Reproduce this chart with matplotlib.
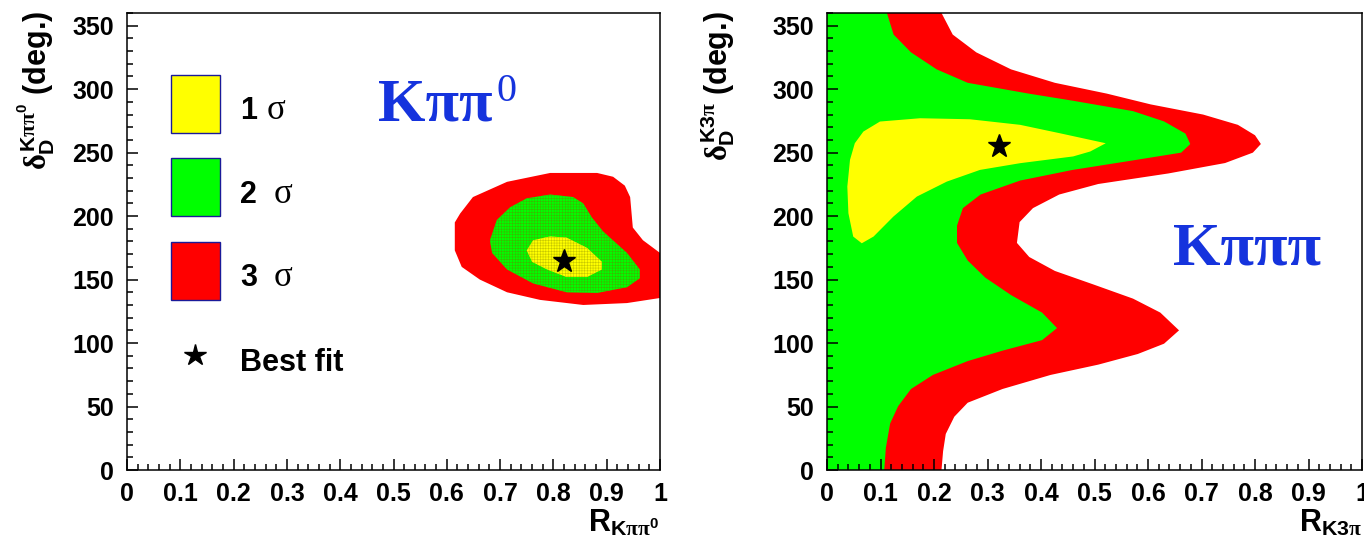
import matplotlib
matplotlib.use("Agg")
import matplotlib.pyplot as plt
from matplotlib.patches import Rectangle
from matplotlib.ticker import MultipleLocator

plt.rcParams["font.family"] = ["Liberation Sans", "DejaVu Sans"]
plt.rcParams["font.weight"] = "bold"
plt.rcParams["axes.labelweight"] = "bold"
plt.rcParams["mathtext.fontset"] = "custom"
plt.rcParams["mathtext.rm"] = "Liberation Sans:bold"
plt.rcParams["mathtext.bf"] = "Liberation Sans:bold"
plt.rcParams["mathtext.it"] = "Liberation Serif"
plt.rcParams["hatch.linewidth"] = 0.4

# --- K pi pi0 contours (closed polygons, R vs delta in deg.) ---
kpp0_3s_r = [0.794, 0.882, 0.912, 0.934, 0.944, 0.949, 0.968, 1.0, 1.0, 0.938, 0.856,
             0.775, 0.713, 0.662, 0.628, 0.615, 0.615, 0.625, 0.649, 0.713]
kpp0_3s_d = [234, 234, 231, 224, 215, 191, 181, 171, 135.5, 131.5, 130,
             134, 140, 150, 160, 173, 195, 202, 215, 227]
kpp0_2s_r = [0.794, 0.837, 0.856, 0.872, 0.893, 0.938, 0.962, 0.962, 0.938, 0.882,
             0.825, 0.762, 0.713, 0.685, 0.681, 0.694, 0.719, 0.750]
kpp0_2s_d = [217, 215, 210, 199, 188, 171, 158, 151, 144, 139.5,
             140, 147, 158, 171, 181, 197, 207, 214]
kpp0_1s_r = [0.750, 0.762, 0.794, 0.825, 0.863, 0.891, 0.891, 0.863, 0.825, 0.788, 0.760]
kpp0_1s_d = [173, 181, 184, 183, 175, 164, 158, 152, 152, 158, 164]
kpp0_best = (0.82, 165)

# --- K3pi contours: outer boundary R(delta) of the 3 sigma and 2 sigma bands ---
k3pi_3s_d = [360, 343, 329, 315.6, 305, 296.5, 288, 280, 271.9, 263.7, 256.8, 250, 241.8,
             233.6, 225.3, 217, 206.3, 195.3, 178.9, 167.8, 156.8, 146, 135, 124, 110,
             99.5, 91.4, 83, 74.9, 63.8, 53, 42, 28.4, 14.8, 0]
k3pi_3s_r = [0.214, 0.235, 0.279, 0.344, 0.426, 0.523, 0.605, 0.703, 0.768, 0.800, 0.811,
             0.796, 0.744, 0.638, 0.507, 0.434, 0.385, 0.360, 0.355, 0.378, 0.426, 0.499,
             0.572, 0.623, 0.658, 0.630, 0.581, 0.507, 0.418, 0.328, 0.263, 0.238, 0.222,
             0.217, 0.214]
k3pi_2s_d = [360, 343, 329, 315.6, 305, 296.5, 291, 282.7, 274.6, 265, 256.8, 250, 244.5,
             236.3, 228, 217, 206.3, 192.5, 178.9, 165, 151.5, 137.8, 124, 111.8, 102.3,
             94, 85.8, 74.9, 63.8, 50.3, 36.6, 17.4, 0]
k3pi_2s_r = [0.112, 0.1245, 0.157, 0.205, 0.263, 0.377, 0.458, 0.572, 0.630, 0.670, 0.679,
             0.662, 0.581, 0.458, 0.361, 0.287, 0.254, 0.243, 0.243, 0.263, 0.296, 0.344,
             0.402, 0.430, 0.402, 0.328, 0.263, 0.198, 0.157, 0.133, 0.118, 0.110, 0.107]
k3pi_1s_r = [0.068, 0.099, 0.174, 0.267, 0.361, 0.435, 0.521, 0.492, 0.460, 0.361, 0.286,
             0.224, 0.168, 0.124, 0.087, 0.065, 0.049, 0.040, 0.038, 0.043, 0.052]
k3pi_1s_d = [266.6, 274.5, 277.1, 276.3, 271.9, 265.3, 257.4, 250.9, 247, 241.7, 236.4,
             227.2, 215.4, 199.6, 183.9, 178.6, 183.9, 202.3, 223.3, 244.3, 257.4]
k3pi_best = (0.321, 255.6)

RED, GREEN, YELLOW = "#ff0000", "#00ff00", "#ffff00"
TITLE_BLUE = "#1533dd"


def style_axes(ax):
    ax.set_xlim(0, 1)
    ax.set_ylim(0, 360)
    ax.xaxis.set_major_locator(MultipleLocator(0.1))
    ax.xaxis.set_minor_locator(MultipleLocator(0.02))
    ax.yaxis.set_major_locator(MultipleLocator(50))
    ax.yaxis.set_minor_locator(MultipleLocator(10))
    ax.xaxis.set_major_formatter(lambda v, p: "%g" % round(v, 2))
    ax.tick_params(which="both", direction="in", top=False, right=False, width=1.1,
                   labelsize=18)
    ax.tick_params(which="major", length=8)
    ax.tick_params(which="minor", length=4.3)
    ax.tick_params(axis="x", pad=8.5)
    ax.tick_params(axis="y", pad=9.5)
    for s in ax.spines.values():
        s.set_linewidth(1.1)


def band(r, d):
    # region from R=0 out to the boundary R(delta)
    return [0.0] + list(r) + [0.0], [d[0]] + list(d) + [d[-1]]


fig = plt.figure(figsize=(13.64, 5.43), dpi=100)
ax1 = fig.add_axes([127 / 1364, 73 / 543, 533 / 1364, 457 / 543])
ax2 = fig.add_axes([827 / 1364, 73 / 543, 535 / 1364, 457 / 543])

# left panel
ax1.fill(kpp0_3s_r, kpp0_3s_d, color=RED, lw=0)
ax1.fill(kpp0_2s_r, kpp0_2s_d, facecolor=GREEN, edgecolor="#3cb800", hatch="++++++", lw=0)
ax1.fill(kpp0_1s_r, kpp0_1s_d, facecolor=YELLOW, edgecolor="#c8c800", hatch="++++++", lw=0)
ax1.plot(*kpp0_best, marker="*", color="black", markersize=17, ls="none")
style_axes(ax1)
ax1.set_ylabel(r"$\delta_{\mathrm{D}}^{\mathrm{K}\pi\pi^{0}}$ (deg.)", fontsize=22, loc="top")
ax1.yaxis.set_label_coords(-0.131, 1.004)
ax1.set_xlabel(r"R$_{\mathrm{K}\pi\pi^{0}}$", fontsize=22, loc="right")
ax1.xaxis.set_label_coords(1.0, -0.083)
ax1.text(0.471, 0.764, "K\u03c0\u03c0", transform=ax1.transAxes, fontsize=44,
         family="Liberation Serif", weight="bold", color=TITLE_BLUE, va="baseline")
ax1.text(0.694, 0.807, "0", transform=ax1.transAxes, fontsize=29,
         family="Liberation Serif", weight="normal", color=TITLE_BLUE, va="baseline")

# legend
boxes = [(0.737, YELLOW, "1", 0.7675), (0.555, GREEN, "2", 0.585), (0.373, RED, "3", 0.4035)]
for i, (y0, col, lab, yb) in enumerate(boxes):
    ax1.add_patch(Rectangle((0.0826, y0), 0.0919, 0.127, transform=ax1.transAxes,
                            facecolor=col, edgecolor="#1a1a99", lw=1.0, clip_on=False))
    ax1.text(0.212, yb, lab, transform=ax1.transAxes, fontsize=22, va="baseline")
    ax1.text(0.262 if i == 0 else 0.275, yb, "\u03c3", transform=ax1.transAxes,
             fontsize=25, family="Liberation Serif", weight="normal", va="baseline")
ax1.plot([0.1276], [0.252], transform=ax1.transAxes, marker="*", color="black",
         markersize=16, clip_on=False)
ax1.text(0.212, 0.2156, "Best fit", transform=ax1.transAxes, fontsize=22, va="baseline")

# right panel
ax2.fill(*band(k3pi_3s_r, k3pi_3s_d), color=RED, lw=0)
ax2.fill(*band(k3pi_2s_r, k3pi_2s_d), color=GREEN, lw=0)
ax2.fill(k3pi_1s_r, k3pi_1s_d, color=YELLOW, lw=0)
ax2.plot(*k3pi_best, marker="*", color="black", markersize=17, ls="none")
style_axes(ax2)
ax2.set_ylabel(r"$\delta_{\mathrm{D}}^{\mathrm{K3}\pi}$ (deg.)", fontsize=22, loc="top")
ax2.yaxis.set_label_coords(-0.168, 1.004)
ax2.set_xlabel(r"R$_{\mathrm{K3}\pi}$", fontsize=22, loc="right")
ax2.xaxis.set_label_coords(1.0, -0.083)
ax2.text(0.647, 0.449, "K\u03c0\u03c0\u03c0", transform=ax2.transAxes, fontsize=44,
         family="Liberation Serif", weight="bold", color=TITLE_BLUE, va="baseline")

fig.savefig("out.png", dpi=100)
